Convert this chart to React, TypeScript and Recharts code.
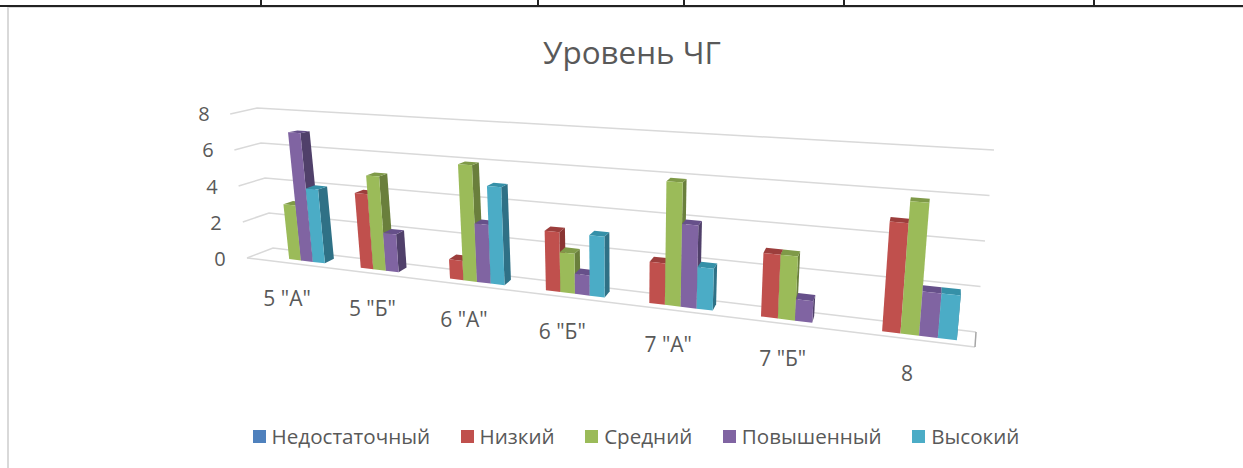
import React from "react";
import { BarChart, Bar, XAxis, YAxis, CartesianGrid, Legend } from "recharts";

const categories = ['5 "А"', '5 "Б"', '6 "А"', '6 "Б"', '7 "А"', '7 "Б"', "8"];
const insufficient = [0, 0, 0, 0, 0, 0, 0];
const low = [0, 4, 1, 3, 2, 3, 5];
const medium = [3, 5, 6, 2, 6, 3, 6];
const raised = [7, 2, 3, 1, 4, 1, 2];
const high = [4, 0, 5, 3, 2, 0, 2];
const yTicks = [0, 2, 4, 6, 8];

const seriesNames = ["Недостаточный", "Низкий", "Средний", "Повышенный", "Высокий"];
const seriesValues = [insufficient, low, medium, raised, high];
const fronts = ["#4F81BD", "#C0504D", "#9BBB59", "#8064A2", "#4BACC6"];
const sides = ["#355A88", "#8A3533", "#6A7F3C", "#50406A", "#2F7186"];
const tops = ["#3F6A9E", "#9C3E3C", "#7F9A48", "#66508A", "#3590A8"];

const data = categories.map((name, i) => {
  const row: Record<string, string | number> = { name };
  seriesNames.forEach((s, k) => (row[s] = seriesValues[k][i]));
  return row;
});

const W = 1243;
const H = 468;
const PL = 250;
const PW = 727;
const PT = 100;
const PB = 370;
const FONT = "'Open Sans', sans-serif";
const TEXT = "#595959";

// perspective of the 3D plot box
const project = (u: number) => (493.2 * u + 255) / (1 - 0.233 * u);
const toU = (x: number) => (x - PL) / PW;
const scaleAt = (u: number) => 18.0 / (1 - 0.2 * u);
const base = (X: number) => 259 + (X - 289) * 0.1218;
const corner = (x: number, v: number) => {
  const u = toU(x);
  const X = project(u);
  return { x: X + (X - 620) * 0.0058 * v, y: base(X) - scaleAt(u) * v, X };
};
const depth = (X: number, v: number) => ({
  dx: Math.max(0, (945 - X) * 0.0145),
  dy: 4.5 + (X - 300) * 0.0045 - (0.36 + (X - 300) * 0.0003) * v,
});
const pts = (a: { x: number; y: number }[]) => a.map((p) => `${p.x},${p.y}`).join(" ");

const Box = (props: any) => {
  const { x, width, height, seriesIndex } = props;
  const v = (height / (PB - PT)) * 8;
  if (!(v > 0)) return null;
  const bl = corner(x, 0);
  const br = corner(x + width, 0);
  const tl = corner(x, v);
  const tr = corner(x + width, v);
  const db = depth(br.X, 0);
  const dt = depth(br.X, v);
  const dl = depth(bl.X, v);
  const brb = { x: br.x + db.dx, y: br.y - db.dy };
  const trb = { x: tr.x + dt.dx, y: tr.y - dt.dy };
  const tlb = { x: tl.x + dl.dx, y: tl.y - dl.dy };
  return (
    <g>
      <polygon points={pts([br, tr, trb, brb])} fill={sides[seriesIndex]} />
      <polygon points={pts([tl, tr, trb, tlb])} fill={tops[seriesIndex]} />
      <polygon points={pts([bl, br, tr, tl])} fill={fronts[seriesIndex]} />
    </g>
  );
};

const gridLine = (props: any) => {
  const v = 8 * (PB - props.y1) / (PB - PT);
  const lf = { x: 247 - 2.1 * v, y: 258 - 18 * v };
  const lb = { x: 273 - 2 * v, y: 248 - 17.5 * v };
  const rb = { x: 976 + 2.25 * v, y: 332 - 22.75 * v };
  return (
    <g key={`g-${v}`}>
      <polyline points={pts([lf, lb, rb])} fill="none" stroke="#D9D9D9" strokeWidth={1.5} />
      {Math.round(v) === 0 && (
        <>
          <line x1={lf.x} y1={lf.y} x2={975} y2={347} stroke="#D9D9D9" strokeWidth={1.5} />
          <line x1={976} y1={332} x2={975} y2={347} stroke="#A6A6A6" strokeWidth={1.5} />
        </>
      )}
    </g>
  );
};

const YTick = (props: any) => {
  const v = props.payload.value;
  return (
    <text x={220 - 2 * v} y={259 - 18.1 * v} dy="0.35em" textAnchor="middle" fontSize={20} fontFamily={FONT} fill={TEXT}>
      {v}
    </text>
  );
};

const XTick = (props: any) => {
  const u = toU(props.payload.coordinate);
  const X = project(u);
  return (
    <text x={X - 8.5 + 6 * u} y={base(X) + 39} dy="0.35em" textAnchor="middle" fontSize={21} fontFamily={FONT} fill={TEXT}>
      {props.payload.value}
    </text>
  );
};

const LegendRow = () => (
  <div style={{ display: "flex", justifyContent: "center", gap: 30.5, fontFamily: FONT, fontSize: 20.6, color: TEXT, lineHeight: "24px", paddingLeft: 29 }}>
    {seriesNames.map((s, k) => (
      <div key={s} style={{ display: "flex", alignItems: "center", gap: 6 }}>
        <span style={{ display: "inline-block", width: 13, height: 13, background: fronts[k] }} />
        <span>{s}</span>
      </div>
    ))}
  </div>
);

const tableTicks = [260, 537, 683, 843, 1093];

export default function App() {
  return (
    <div style={{ position: "absolute", left: 0, top: 0, width: W, height: H, overflow: "hidden", background: "#fff" }}>
      <div style={{ position: "absolute", left: 0, top: 5, width: W, height: 2, background: "#222" }} />
      <div style={{ position: "absolute", left: 7, top: 7, width: W, height: 1, background: "#D9D9D9" }} />
      <div style={{ position: "absolute", left: 7, top: 7, width: 2, height: H, background: "#D9D9D9" }} />
      {tableTicks.map((x) => (
        <div key={x} style={{ position: "absolute", left: x, top: 0, width: 2, height: 6, background: "#222" }} />
      ))}
      <div style={{ position: "absolute", left: 0, top: 0 }}>
        <BarChart
          width={W}
          height={H}
          data={data}
          margin={{ left: PL - 60, right: W - PL - PW, top: PT, bottom: H - PB - 30 }}
          barCategoryGap="13.8%"
          barGap={0}
        >
          <text x={632} y={53} dy="0.35em" textAnchor="middle" fontSize={31.4} fontFamily={FONT} fill={TEXT}>
            Уровень ЧГ
          </text>
          <CartesianGrid horizontal={gridLine} vertical={false} />
          <XAxis dataKey="name" height={30} axisLine={false} tickLine={false} tick={XTick} interval={0} />
          <YAxis width={60} domain={[0, 8]} ticks={yTicks} axisLine={false} tickLine={false} tick={YTick} />
          <Legend verticalAlign="middle" content={LegendRow} wrapperStyle={{ left: 0, top: 424, width: W }} />
          {seriesNames.map((s, k) => (
            <Bar key={s} dataKey={s} fill={fronts[k]} isAnimationActive={false} shape={(p: any) => <Box {...p} seriesIndex={k} />} />
          ))}
        </BarChart>
      </div>
    </div>
  );
}
